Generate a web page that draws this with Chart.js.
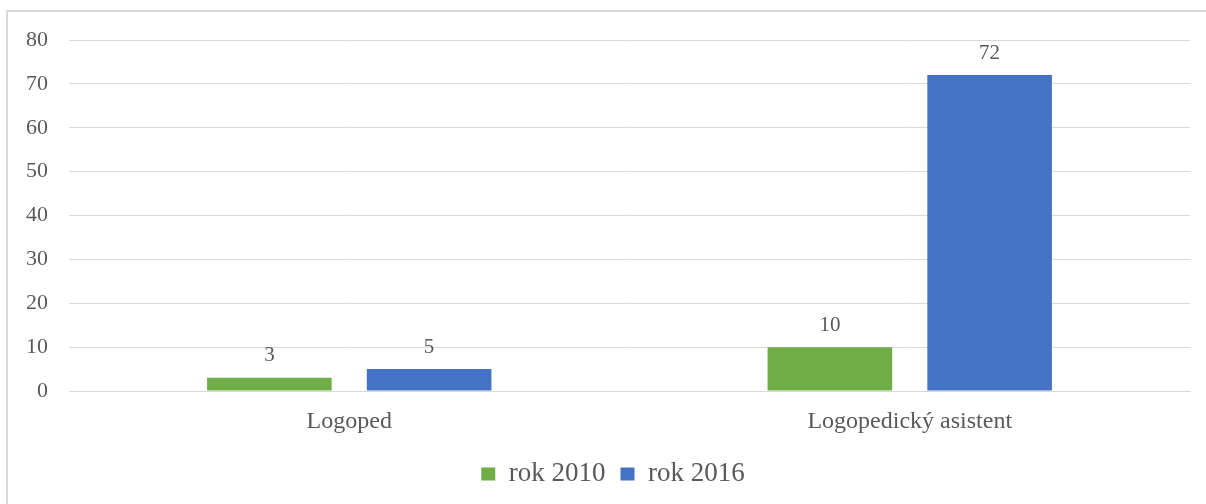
<!DOCTYPE html>
<html>
<head>
<meta charset="utf-8">
<script src="https://cdn.jsdelivr.net/npm/chart.js@4/dist/chart.umd.min.js"></script>
<style>
  body { margin: 0; background: #fff; overflow: hidden; }
  #frame { position: absolute; left: 6px; top: 10px; width: 1300px; height: 600px; border: 2px solid #d9d9d9; }
  #chart { position: absolute; left: 0; top: 0; }
</style>
</head>
<body>
<div id="frame"></div>
<canvas id="chart" width="1206" height="504"></canvas>
<script>
var categories = ['Logoped', 'Logopedický asistent'];
var rok2010 = [3, 10];
var rok2016 = [5, 72];
var yTicks = [0, 10, 20, 30, 40, 50, 60, 70, 80];

var textColor = '#595959';
var serif = '"Liberation Serif", "Times New Roman", serif';

// value written above every bar
var valueLabels = {
  id: 'valueLabels',
  afterDatasetsDraw: function (chart) {
    var ctx = chart.ctx;
    ctx.save();
    ctx.fillStyle = textColor;
    ctx.font = '21px ' + serif;
    ctx.textAlign = 'center';
    ctx.textBaseline = 'middle';
    chart.data.datasets.forEach(function (ds, i) {
      chart.getDatasetMeta(i).data.forEach(function (bar, j) {
        ctx.fillText(String(ds.data[j]), bar.x, bar.y - 22);
      });
    });
    ctx.restore();
  }
};

// nudge the legend row a little to the right
var legendShift = {
  id: 'legendShift',
  afterLayout: function (chart) {
    chart.legend.left += 14;
    chart.legend.right += 14;
  }
};

new Chart(document.getElementById('chart'), {
  type: 'bar',
  data: {
    labels: categories,
    datasets: [
      { label: 'rok 2010', data: rok2010, backgroundColor: '#70ad47',
        categoryPercentage: 0.57, barPercentage: 0.78 },
      { label: 'rok 2016', data: rok2016, backgroundColor: '#4472c4',
        categoryPercentage: 0.57, barPercentage: 0.78 }
    ]
  },
  options: {
    responsive: false,
    animation: false,
    layout: { padding: { left: 8, right: 16, top: 40, bottom: 6.5 } },
    scales: {
      x: {
        grid: { display: false, drawTicks: false },
        border: { color: '#d9d9d9', width: 1 },
        ticks: { color: textColor, font: { family: serif, size: 24 }, padding: 16 },
        afterFit: function (s) { s.height = 54.5; }
      },
      y: {
        min: 0,
        max: 80,
        afterBuildTicks: function (s) { s.ticks = yTicks.map(function (v) { return { value: v }; }); },
        grid: { color: '#d9d9d9', drawTicks: false },
        border: { display: false },
        ticks: { color: textColor, font: { family: serif, size: 22 }, padding: 21 },
        afterFit: function (s) { s.width = 61; }
      }
    },
    plugins: {
      legend: {
        position: 'bottom',
        labels: {
          color: textColor,
          font: { family: serif, size: 27 },
          boxWidth: 14,
          boxHeight: 13,
          padding: 15
        }
      },
      tooltip: { enabled: false }
    }
  },
  plugins: [valueLabels, legendShift]
});
</script>
</body>
</html>
